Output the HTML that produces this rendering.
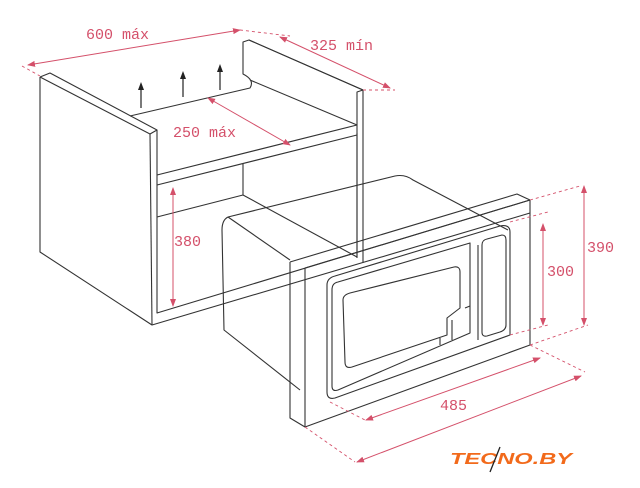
<!DOCTYPE html>
<html><head><meta charset="utf-8"><style>
html,body{margin:0;padding:0;background:#fff;width:640px;height:488px;overflow:hidden}
svg{display:block}
.k{fill:none;stroke:#333;stroke-width:1.1;stroke-linejoin:round}
.r{fill:none;stroke:#d4506a;stroke-width:1}
.d{fill:none;stroke:#d4506a;stroke-width:0.9;stroke-dasharray:3 3}
.t{font-family:"Liberation Mono",monospace;font-size:15px;fill:#d4506a}
</style></head><body>
<svg width="640" height="488" viewBox="0 0 640 488" xmlns="http://www.w3.org/2000/svg">
<defs><marker id="a" markerWidth="8" markerHeight="6" refX="7" refY="3" orient="auto-start-reverse"><path d="M0,0 L8,3 L0,6z" fill="#d4506a"/></marker></defs>
<!-- cabinet -->
<path class="k" d="M40,77 L40,252 L152,325 L530,213 M363,263 L363,90 L249,40 L243,42 L243,74 Q255,80 250,88 L130,116"/>
<path class="k" d="M40,77 L50,73 L157,130 L150,134 L40,77"/>
<path class="k" d="M150,134 L152,325"/>
<path class="k" d="M157,130 L157,313 L530,200 M357,257 L357,133"/>
<path class="k" d="M249,40 L363,90 L357,92 L357,258"/>
<path class="k" d="M250,80 L357,125"/>
<path class="k" d="M157,175 L357,125 M157,185 L357,135 M157,217 L243,195 L243,163"/>
<path class="k" d="M243,195 L357,257"/>
<!-- arrows up -->
<path d="M141,108 V88 M183,97 V77 M220,90 V70" stroke="#222" stroke-width="1.2"/>
<path d="M138,90 L141,82 L144,90z M180,79 L183,71 L186,79z M217,72 L220,64 L223,72z" fill="#222"/>
<!-- microwave body -->
<path class="k" d="M228,217 Q222,220 222,230 L224,330 L300,390 M228,217 L395,176 Q405,174 413,180 L508,230"/>
<path class="k" d="M228,217 L290,260"/>
<!-- frame -->
<path class="k" d="M290,262 L290,418 L305,427 L530,345 L530,200 L517,194 L290,262 M305,268 L530,200 M305,268 L305,427"/>
<!-- door -->
<path class="k" d="M327,285 Q327,278 335,276 L500,226 Q510,224 510,232 L510,335 L335,398 Q327,400 327,392 Z"/>
<path class="k" d="M332,290 Q332,283 338,282 L470,243 L470,333 L338,390 Q332,392 332,386 Z"/>
<path class="k" d="M343,300 Q343,295 350,293 L454,267 Q460,266 460,272 L460,308 L447,318 L447,335 L352,367 Q345,369 345,362 Z"/>
<path class="k" d="M465,308 L470,306 M452,320 L452,340 M440,338 L440,345"/>
<path class="k" d="M478,245 L478,340 M482,245 Q482,240 487,239 L502,235 Q506,235 506,240 L506,325 Q506,330 500,332 L487,336 Q482,337 482,332 Z"/>
<!-- dimensions -->
<path class="r" d="M28,65 L240,30" marker-start="url(#a)" marker-end="url(#a)"/>
<path class="d" d="M22,66 L40,76 M240,30 L290,36"/>
<path class="r" d="M280,37 L390,88" marker-start="url(#a)" marker-end="url(#a)"/>
<path class="d" d="M363,90 L395,90"/>
<text class="t" x="86" y="39">600 máx</text>
<text class="t" x="310" y="50">325 mín</text>
<path class="r" d="M208,98 L290,145" marker-start="url(#a)" marker-end="url(#a)"/>
<text class="t" x="173" y="137">250 máx</text>
<path class="r" d="M173,188 L173,306" marker-start="url(#a)" marker-end="url(#a)"/>
<text class="t" x="174" y="246">380</text>
<path class="d" d="M530,200 L580,186 M510,222 L548,212 M510,335 L548,325 M530,345 L588,325"/>
<path class="r" d="M584,186 L584,325" marker-start="url(#a)" marker-end="url(#a)"/>
<path class="r" d="M543,224 L543,325" marker-start="url(#a)" marker-end="url(#a)"/>
<text class="t" x="587" y="252">390</text>
<text class="t" x="547" y="276">300</text>
<path class="d" d="M330,402 L365,420 M305,427 L355,462 M530,345 L585,372"/>
<path class="r" d="M366,420 L540,358" marker-start="url(#a)" marker-end="url(#a)"/>
<path class="r" d="M357,462 L581,376" marker-start="url(#a)" marker-end="url(#a)"/>
<text class="t" x="440" y="410">485</text>
<!-- logo -->
<text x="450" y="464" font-family="Liberation Sans,sans-serif" font-weight="bold" font-style="italic" font-size="16" fill="#f26a1b" textLength="122" lengthAdjust="spacingAndGlyphs">TECNO.BY</text>
<path d="M490,472 L500,447" stroke="#222" stroke-width="1.3"/>
</svg>
</body></html>
